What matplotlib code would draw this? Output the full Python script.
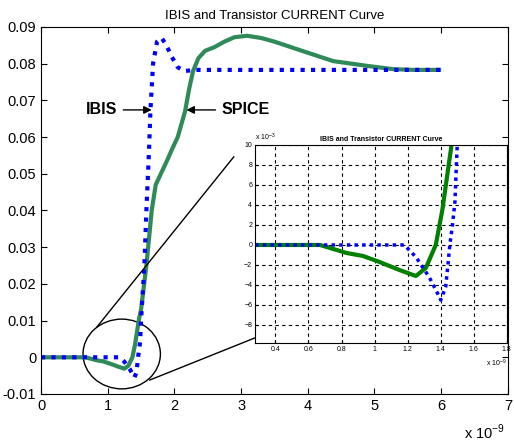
import matplotlib
matplotlib.use("Agg")
import matplotlib.pyplot as plt
from matplotlib.patches import Ellipse

plt.rcParams["font.family"] = ["Liberation Sans", "DejaVu Sans"]
plt.rcParams["mathtext.fontset"] = "custom"
plt.rcParams["mathtext.rm"] = "Liberation Sans"

# time in ns, current in A
t_spice = [0.0, 0.67, 0.83, 0.93, 1.03, 1.15, 1.25, 1.31, 1.37, 1.41, 1.45, 1.47,
           1.50, 1.58, 1.66, 1.72, 1.81, 1.90, 1.96, 2.05, 2.16, 2.22, 2.28, 2.36,
           2.46, 2.60, 2.75, 2.90, 3.09, 3.30, 3.50, 3.88, 4.38, 4.89, 5.28, 5.60, 6.0]
i_spice = [0.0, 0.0, -0.0008, -0.0011, -0.0017, -0.0025, -0.0031, -0.0023, 0.0,
           0.0035, 0.0082, 0.0105, 0.0130, 0.0250, 0.0400, 0.0470, 0.0505, 0.0540,
           0.0565, 0.0600, 0.0670, 0.0730, 0.0780, 0.0815, 0.0835, 0.0845, 0.0860,
           0.0872, 0.0876, 0.0870, 0.0860, 0.0837, 0.0807, 0.0794, 0.0785, 0.0783, 0.0783]

t_ibis = [0.0, 1.18, 1.25, 1.33, 1.38, 1.40, 1.43, 1.445, 1.455, 1.47, 1.486, 1.50,
          1.55, 1.58, 1.62, 1.64, 1.68, 1.74, 1.81, 1.88, 1.96, 2.05, 2.16, 2.30, 6.0]
i_ibis = [0.0, 0.0, -0.0012, -0.0032, -0.0048, -0.0055, -0.0042, -0.0018, 0.0,
          0.0018, 0.0043, 0.0100, 0.0250, 0.0400, 0.0565, 0.0670, 0.0800, 0.0860,
          0.0870, 0.0850, 0.0819, 0.0790, 0.0780, 0.0783, 0.0783]

main_xticks = [0, 1, 2, 3, 4, 5, 6, 7]
main_yticks = [-0.01, 0, 0.01, 0.02, 0.03, 0.04, 0.05, 0.06, 0.07, 0.08, 0.09]
main_ylabels = ["-0.01", "0", "0.01", "0.02", "0.03", "0.04", "0.05", "0.06", "0.07", "0.08", "0.09"]
inset_xticks = [0.4, 0.6, 0.8, 1.0, 1.2, 1.4, 1.6, 1.8]
inset_xlabels = ["0.4", "0.6", "0.8", "1", "1.2", "1.4", "1.6", "1.8"]
inset_yticks = [-8, -6, -4, -2, 0, 2, 4, 6, 8, 10]

TITLE = "IBIS and Transistor CURRENT Curve"
SPICE_GREEN = "#2e8b57"
INSET_GREEN = "#008000"
BLUE = "#0000ff"


def main():
    fig = plt.figure(figsize=(5.14, 4.42), dpi=100)
    ax = fig.add_axes([0.0798, 0.1086, 0.9082, 0.8304])

    ax.plot(t_spice, i_spice, color=SPICE_GREEN, lw=3, solid_capstyle="butt")
    ax.plot(t_ibis, i_ibis, color=BLUE, lw=3, dashes=(1, 1.5), dash_capstyle="butt")

    ax.set_xlim(0, 7)
    ax.set_ylim(-0.01, 0.09)
    ax.set_xticks(main_xticks)
    ax.set_yticks(main_yticks)
    ax.set_yticklabels(main_ylabels)
    ax.tick_params(direction="in", top=True, right=True, labelsize=10.5, length=4)
    ax.set_title(TITLE, fontsize=9.5, pad=6)
    fig.text(0.982, 0.022, r"x 10$^{\mathregular{-9}}$", ha="right", va="center", fontsize=10.5)

    # zoom circle and connecting lines
    ax.add_patch(Ellipse((1.21, 0.0009), 1.16, 0.019, fill=False, ec="black", lw=1))
    ax.plot([0.84, 2.89], [0.0083, 0.0546], color="black", lw=1)
    ax.plot([1.63, 3.21], [-0.0062, 0.0053], color="black", lw=1)

    # labels with arrows
    ax.annotate("IBIS", xy=(1.66, 0.0674), xytext=(0.68, 0.0674), fontsize=11.5,
                fontweight="bold", va="center",
                arrowprops=dict(arrowstyle="-|>", color="black", lw=1, shrinkA=2, shrinkB=0))
    ax.annotate("SPICE", xy=(2.18, 0.0674), xytext=(2.7, 0.0674), fontsize=11.5,
                fontweight="bold", va="center",
                arrowprops=dict(arrowstyle="-|>", color="black", lw=1, shrinkA=2, shrinkB=0))

    # inset
    ins = fig.add_axes([0.496, 0.224, 0.490, 0.448])
    ins.plot(t_spice, [v * 1e3 for v in i_spice], color=INSET_GREEN, lw=3, solid_capstyle="butt")
    ins.plot(t_ibis, [v * 1e3 for v in i_ibis], color=BLUE, lw=2.5, dashes=(1, 1.2), dash_capstyle="butt")
    ins.set_xlim(0.276, 1.8)
    ins.set_ylim(-9.8, 10)
    ins.set_xticks(inset_xticks)
    ins.set_xticklabels(inset_xlabels)
    ins.set_yticks(inset_yticks)
    ins.grid(True, color="black", ls=(0, (3, 3)), lw=0.8)
    ins.tick_params(direction="in", labelsize=5, length=2, pad=2)
    ins.set_title(TITLE, fontsize=5, fontweight="bold", pad=3)
    fig.text(0.497, 0.69, r"x 10$^{\mathregular{-3}}$", ha="left", va="center", fontsize=5)
    fig.text(0.986, 0.178, r"x 10$^{\mathregular{-9}}$", ha="right", va="center", fontsize=5)

    fig.savefig("out.png", dpi=100)


if __name__ == "__main__":
    main()
